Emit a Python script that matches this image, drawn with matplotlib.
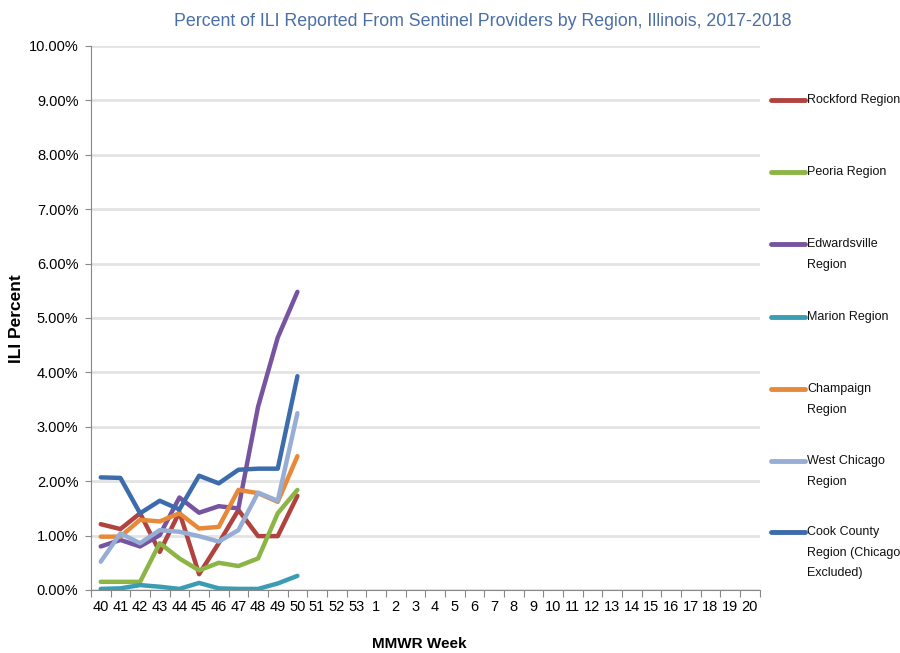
import matplotlib
matplotlib.use("Agg")
import matplotlib.pyplot as plt
from matplotlib.lines import Line2D

plt.rcParams['font.family'] = ['Liberation Sans', 'DejaVu Sans']

weeks = [str(w) for w in range(40, 54)] + [str(w) for w in range(1, 21)]

rockford = [1.21, 1.12, 1.41, 0.70, 1.43, 0.29, 0.86, 1.47, 0.99, 0.99, 1.73]
peoria = [0.15, 0.15, 0.15, 0.86, 0.58, 0.36, 0.50, 0.44, 0.58, 1.41, 1.84]
edwardsville = [0.80, 0.92, 0.80, 1.01, 1.70, 1.42, 1.54, 1.50, 3.37, 4.64, 5.48]
marion = [0.02, 0.03, 0.09, 0.06, 0.02, 0.13, 0.03, 0.02, 0.02, 0.12, 0.26]
champaign = [0.98, 0.98, 1.29, 1.26, 1.41, 1.13, 1.16, 1.84, 1.78, 1.62, 2.46]
west_chicago = [0.52, 1.04, 0.86, 1.10, 1.07, 0.99, 0.89, 1.10, 1.79, 1.64, 3.25]
cook_county = [2.07, 2.06, 1.41, 1.64, 1.48, 2.10, 1.96, 2.21, 2.23, 2.23, 3.93]

series = [
    ("Rockford Region", rockford, "#b0433f"),
    ("Peoria Region", peoria, "#8cb546"),
    ("Edwardsville\nRegion", edwardsville, "#7654a0"),
    ("Marion Region", marion, "#3a9db4"),
    ("Champaign\nRegion", champaign, "#e8893a"),
    ("West Chicago\nRegion", west_chicago, "#96aed6"),
    ("Cook County\nRegion (Chicago\nExcluded)", cook_county, "#3c6cab"),
]

fig = plt.figure(figsize=(9, 6.53), dpi=100)
ax = fig.add_axes([0.101, 0.0965, 0.743, 0.8331])

x = list(range(len(weeks)))
for name, vals, col in series:
    ax.plot(x[:len(vals)], vals, color=col, lw=3.2, solid_capstyle='round',
            solid_joinstyle='round', zorder=3)

ax.set_xlim(-0.5, len(weeks) - 0.5)
ax.set_ylim(0, 10)
ax.set_yticks(range(0, 11))
ax.set_yticklabels([f"{v:.2f}%" for v in range(0, 11)], fontsize=10.5)
ax.set_xticks(x)
ax.set_xticklabels(weeks, fontsize=10.5)
ax.set_xticks([i + 0.5 for i in x[:-1]] + [-0.5, len(weeks) - 0.5], minor=True)
ax.tick_params(axis='x', which='major', length=0, pad=7)
ax.tick_params(axis='x', which='minor', length=5, color='#888888', width=0.8)
ax.tick_params(axis='y', length=4, color='#888888', width=0.8, pad=5)

ax.grid(axis='y', color='#e3e3e3', lw=2.0, zorder=0)
ax.set_axisbelow(True)
for s in ['top', 'right']:
    ax.spines[s].set_visible(False)
ax.spines['left'].set_color('#888888')
ax.spines['bottom'].set_color('#888888')
ax.spines['left'].set_linewidth(0.8)
ax.spines['bottom'].set_linewidth(0.8)

ax.set_xlabel("MMWR Week", fontsize=11, fontweight='bold')
ax.xaxis.set_label_coords((420 - 91) / 669, -(644 - 590) / 544, transform=ax.transAxes)
ax.xaxis.label.set_va('center')
ax.set_ylabel("ILI Percent", fontsize=12.5, fontweight='bold')
ax.yaxis.set_label_coords((17 - 91) / 669, (590 - 319) / 544, transform=ax.transAxes)
ax.yaxis.label.set_va('center')
fig.text(483 / 900, 1 - 21 / 653,
         "Percent of ILI Reported From Sentinel Providers by Region, Illinois, 2017-2018",
         ha='center', va='center', fontsize=12.8, color='#4a6ea6')

# legend drawn at right
leg_y = [100, 172, 244, 317, 389, 461, 532]
H = 653.0
for (name, vals, col), yp in zip(series, leg_y):
    yf = 1 - yp / H
    fig.add_artist(Line2D([771 / 900, 805 / 900], [yf, yf], color=col, lw=3.5,
                          solid_capstyle='round', transform=fig.transFigure))
    fig.text(807 / 900, yf + 6 / H, name, ha='left', va='top', fontsize=9,
             linespacing=1.95, color='#111111')

fig.savefig("out.png", dpi=100)
